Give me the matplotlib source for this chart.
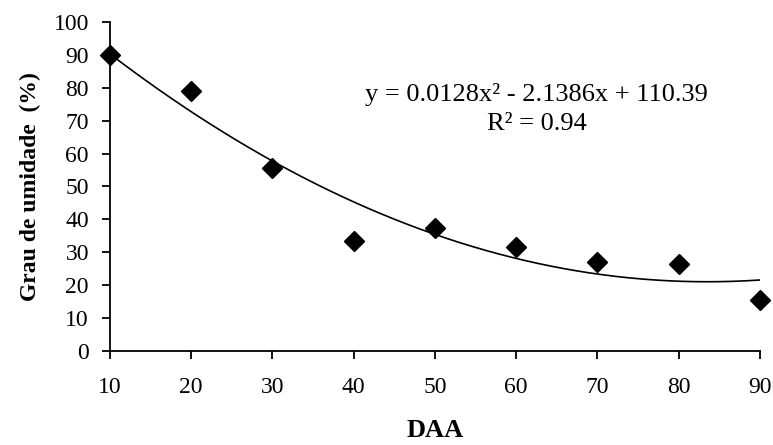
import numpy as np
import matplotlib.pyplot as plt

plt.rcParams["font.family"] = ["Liberation Serif", "DejaVu Serif"]

# dados
daa = [10, 20, 30, 40, 50, 60, 70, 80, 90]
umidade = [90, 79, 55.5, 33.5, 37.5, 31.5, 27, 26.5, 15.5]
coef = [0.0128, -2.1386, 110.39]
eq_text = "y = 0.0128x² - 2.1386x + 110.39\nR² = 0.94"

fig = plt.figure(figsize=(7.73, 4.45), dpi=100)
ax = fig.add_axes([0.142, 0.211, 0.841, 0.74])

xs = np.linspace(min(daa), max(daa), 200)
ax.plot(xs, np.polyval(coef, xs), color="black", lw=1.2)
ax.plot(daa, umidade, "D", color="black", ms=10, clip_on=False)

ax.set_xlim(10, 90)
ax.set_ylim(0, 100)
ax.set_xticks(range(10, 91, 10))
ax.set_yticks(range(0, 101, 10))
ax.tick_params(direction="out", length=6, width=1.3, labelsize=17)
ax.tick_params(axis="x", pad=13)
ax.tick_params(axis="y", pad=9)
for s in ["top", "right"]:
    ax.spines[s].set_visible(False)
for s in ["left", "bottom"]:
    ax.spines[s].set_linewidth(1.3)

ax.set_ylabel("Grau de umidade  (%)", fontsize=17, fontweight="bold", labelpad=9)
ax.set_xlabel("DAA", fontsize=19, fontweight="bold", labelpad=15)
ax.text(0.657, 0.735, eq_text, transform=ax.transAxes, ha="center", va="center",
        fontsize=19, linespacing=1.4)

fig.savefig("out.png", dpi=100)
